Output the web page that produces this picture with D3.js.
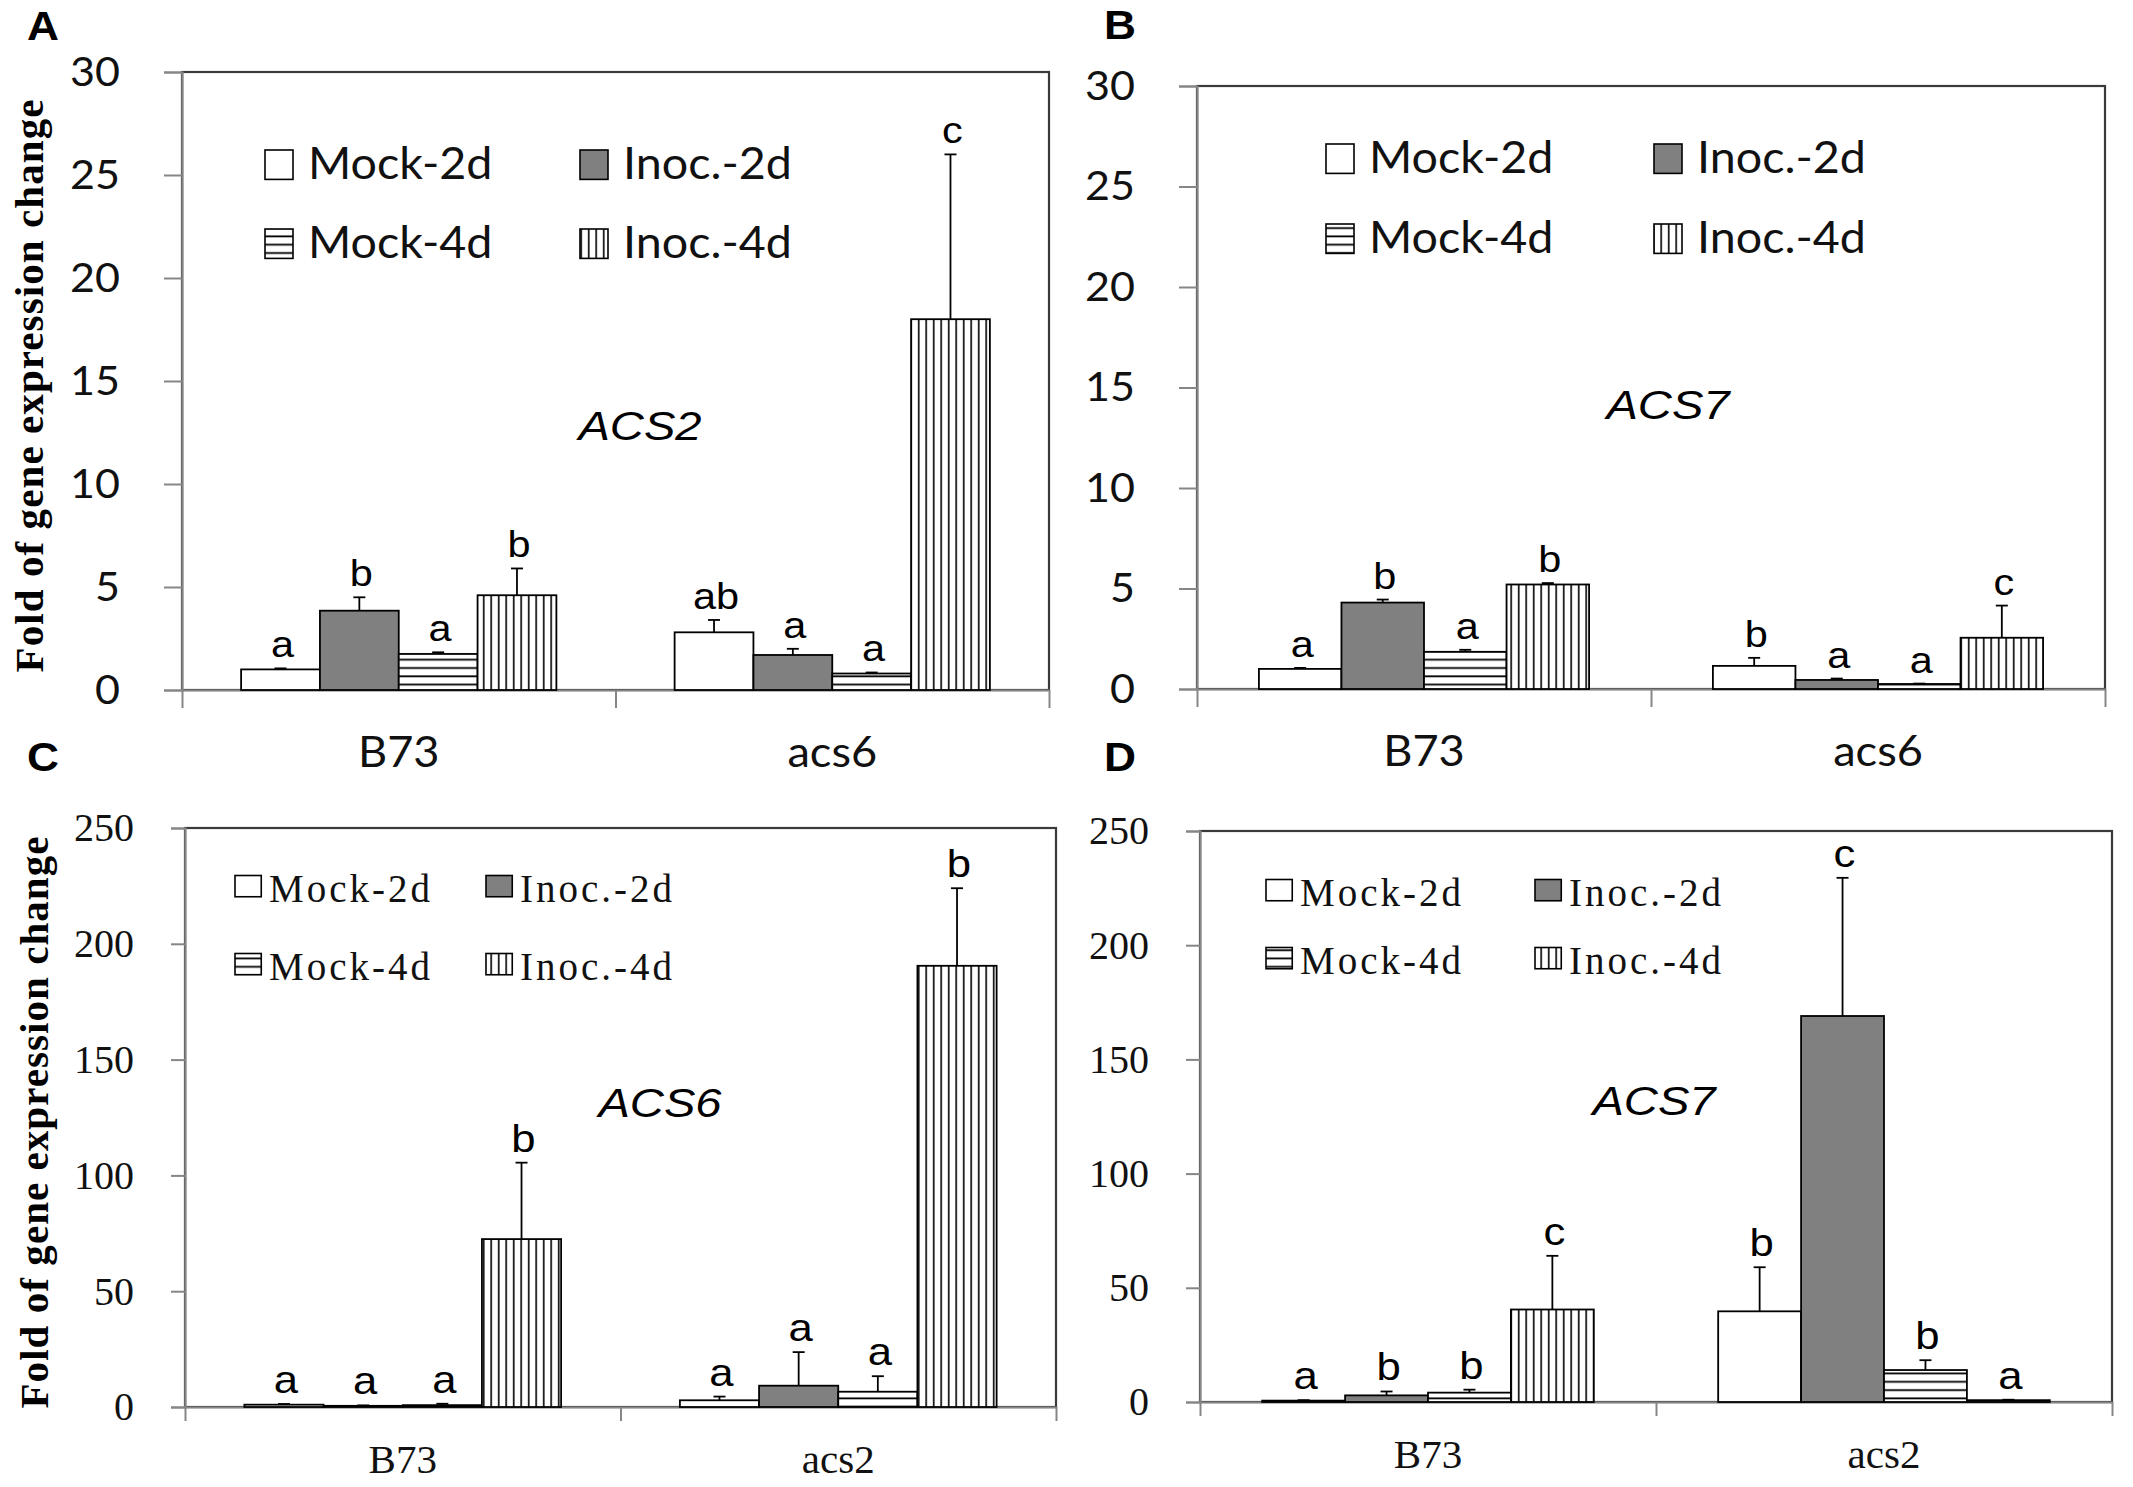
<!DOCTYPE html>
<html>
<head>
<meta charset="utf-8">
<script src="https://cdn.jsdelivr.net/npm/d3@7"></script>
<style>
  body { margin: 0; background: #fff; }
  svg { display: block; }
</style>
</head>
<body>
<script>
const W = 2133, H = 1487

// data
const seriesNames = ['Mock-2d', 'Inoc.-2d', 'Mock-4d', 'Inoc.-4d']
const groupsTop = ['B73', 'acs6']
const groupsBottom = ['B73', 'acs2']
const ticksTop = [0, 5, 10, 15, 20, 25, 30]
const ticksBottom = [0, 50, 100, 150, 200, 250]

const valuesA = [[1.0, 3.85, 1.75, 4.6], [2.8, 1.7, 0.8, 18.0]]
const errorsA = [[0.05, 0.65, 0.08, 1.3], [0.6, 0.3, 0.05, 8.0]]
const lettersA = [['a', 'b', 'a', 'b'], ['ab', 'a', 'a', 'c']]

const valuesB = [[1.0, 4.3, 1.85, 5.2], [1.15, 0.45, 0.25, 2.55]]
const errorsB = [[0.05, 0.15, 0.1, 0.07], [0.4, 0.07, 0.02, 1.6]]
const lettersB = [['a', 'b', 'a', 'b'], ['b', 'a', 'a', 'c']]

const valuesC = [[1.0, 0.5, 0.8, 72.5], [2.9, 9.2, 6.6, 190.5]]
const errorsC = [[0.3, 0.2, 0.6, 33], [1.6, 14.5, 6.7, 33.5]]
const lettersC = [['a', 'a', 'a', 'b'], ['a', 'a', 'a', 'b']]

const valuesD = [[0.6, 2.9, 4.1, 40.5], [39.7, 169, 14, 0.8]]
const errorsD = [[0.2, 1.7, 1.3, 23.5], [19.3, 60.5, 4.3, 0.2]]
const lettersD = [['a', 'b', 'b', 'c'], ['b', 'c', 'b', 'a']]

const sans = "Lato, 'Open Sans', sans-serif"
const serif = "'Liberation Serif', 'Times New Roman', serif"
const arial = "'Liberation Sans', Arial, sans-serif"
const fills = ['#ffffff', '#808080', 'url(#hstripe)', 'url(#vstripe)']

const panels = [
    { label: 'A', left: 182, right: 1049, top: 72, bottom: 690, ticks: ticksTop, groups: groupsTop,
      values: valuesA, errors: errorsA, letters: lettersA, gene: 'ACS2', genePos: [640, 426],
      legend: { cols: [265, 580], rows: [164, 243], sw: 28, gap: 15 }, labelPos: [27, 26], title: 29, serifText: false },
    { label: 'B', left: 1197, right: 2105, top: 86, bottom: 689, ticks: ticksTop, groups: groupsTop,
      values: valuesB, errors: errorsB, letters: lettersB, gene: 'ACS7', genePos: [1668, 405],
      legend: { cols: [1326, 1654], rows: [158, 238], sw: 28, gap: 15 }, labelPos: [1104, 25], title: null, serifText: false },
    { label: 'C', left: 185, right: 1056, top: 828, bottom: 1407, ticks: ticksBottom, groups: groupsBottom,
      values: valuesC, errors: errorsC, letters: lettersC, gene: 'ACS6', genePos: [660, 1103],
      legend: { cols: [235, 486], rows: [888, 966], sw: 25, gap: 9 }, labelPos: [27, 757], title: 34, serifText: true },
    { label: 'D', left: 1200, right: 2112, top: 831, bottom: 1402, ticks: ticksBottom, groups: groupsBottom,
      values: valuesD, errors: errorsD, letters: lettersD, gene: 'ACS7', genePos: [1654, 1101],
      legend: { cols: [1266, 1535], rows: [892, 960], sw: 25, gap: 9 }, labelPos: [1104, 757], title: null, serifText: true }
]

const svg = d3.select('body').append('svg')
    .attr('width', W).attr('height', H)
    .attr('viewBox', `0 0 ${W} ${H}`)
    .attr('xmlns', 'http://www.w3.org/2000/svg')

// stripe patterns for the 4-day bars
const defs = svg.append('defs')
const hp = defs.append('pattern').attr('id', 'hstripe').attr('patternUnits', 'userSpaceOnUse')
    .attr('width', 10).attr('height', 8.3)
hp.append('rect').attr('width', 10).attr('height', 8.3).attr('fill', '#fff')
hp.append('line').attr('x1', 0).attr('x2', 10).attr('y1', 4).attr('y2', 4).attr('stroke', '#000').attr('stroke-width', 1.8)
const vp = defs.append('pattern').attr('id', 'vstripe').attr('patternUnits', 'userSpaceOnUse')
    .attr('width', 7.5).attr('height', 10)
vp.append('rect').attr('width', 7.5).attr('height', 10).attr('fill', '#fff')
vp.append('line').attr('y1', 0).attr('y2', 10).attr('x1', 3.7).attr('x2', 3.7).attr('stroke', '#000').attr('stroke-width', 1.6)

// widen glyphs a little, the source figure was stretched horizontally
function stretch(sel, k) {
    sel.each(function () {
        const len = this.getComputedTextLength()
        if (len > 0) d3.select(this).attr('textLength', len * k).attr('lengthAdjust', 'spacingAndGlyphs')
    })
}

panels.forEach(p => drawPanel(p))

function drawPanel(p) {
    const g = svg.append('g')
    const font = p.serifText ? serif : sans
    const yMax = p.ticks[p.ticks.length - 1]
    const y = d3.scaleLinear().domain([0, yMax]).range([p.bottom, p.top])
    const x0 = d3.scaleBand().domain(p.groups).range([p.left, p.right])
    const x1 = d3.scaleBand().domain(seriesNames).range([0, x0.bandwidth()]).paddingOuter(0.75).paddingInner(0)
    const edge = d3.scaleLinear().domain([0, p.groups.length]).range([p.left, p.right])

    // plot frame
    g.append('rect')
        .attr('x', p.left).attr('y', p.top)
        .attr('width', p.right - p.left).attr('height', p.bottom - p.top)
        .attr('fill', 'none').attr('stroke', '#3a3a3a').attr('stroke-width', 2.2)

    // y axis
    const yAxis = g.append('g').attr('transform', `translate(${p.left},0)`)
        .call(d3.axisLeft(y).tickValues(p.ticks).tickSize(p.serifText ? 14 : 18).tickPadding(p.serifText ? 37 : 44))
    yAxis.select('.domain').attr('stroke', '#868686').attr('stroke-width', 2.2)
    yAxis.selectAll('.tick line').attr('stroke', '#868686').attr('stroke-width', 2)
    yAxis.selectAll('.tick text')
        .attr('fill', '#111').attr('font-family', font)
        .attr('font-size', p.serifText ? 40 : 41)
    stretch(yAxis.selectAll('.tick text'), p.serifText ? 1.0 : 1.05)

    // x axis: boundary ticks and category labels
    const xEdge = g.append('g').attr('transform', `translate(0,${p.bottom})`)
        .call(d3.axisBottom(edge).tickValues(d3.range(p.groups.length + 1)).tickFormat('').tickSize(p.serifText ? 14 : 18).tickSizeOuter(0))
    xEdge.select('.domain').attr('stroke', '#868686').attr('stroke-width', 2.2)
    xEdge.selectAll('.tick line').attr('stroke', '#868686').attr('stroke-width', 2)

    const xCat = g.append('g').attr('transform', `translate(0,${p.bottom})`)
        .call(d3.axisBottom(x0).tickSize(0))
    xCat.select('.domain').remove()
    xCat.selectAll('.tick text')
        .attr('y', p.serifText ? 52 : 62).attr('dy', '0.35em')
        .attr('fill', '#111').attr('font-family', font)
        .attr('font-size', p.serifText ? 41 : 43)
    stretch(xCat.selectAll('.tick text'), p.serifText ? 1.0 : 1.05)

    // bars
    const rows = p.groups.flatMap((grp, gi) => seriesNames.map((s, si) => ({
        grp, s, si, v: p.values[gi][si], e: p.errors[gi][si], letter: p.letters[gi][si]
    })))
    const bw = x1.bandwidth()

    g.append('g').selectAll('rect').data(rows).enter().append('rect')
        .attr('x', d => x0(d.grp) + x1(d.s))
        .attr('y', d => y(d.v))
        .attr('width', bw)
        .attr('height', d => y(0) - y(d.v))
        .attr('fill', d => fills[d.si])
        .attr('stroke', '#000').attr('stroke-width', 1.8)

    // error bars, upper half only
    const eb = g.append('g').attr('stroke', '#000').attr('stroke-width', 1.8)
    eb.selectAll('line.v').data(rows).enter().append('line')
        .attr('class', 'v')
        .attr('x1', d => x0(d.grp) + x1(d.s) + bw / 2).attr('x2', d => x0(d.grp) + x1(d.s) + bw / 2)
        .attr('y1', d => y(d.v)).attr('y2', d => y(d.v + d.e))
    eb.selectAll('line.c').data(rows).enter().append('line')
        .attr('class', 'c')
        .attr('x1', d => x0(d.grp) + x1(d.s) + bw / 2 - 6).attr('x2', d => x0(d.grp) + x1(d.s) + bw / 2 + 6)
        .attr('y1', d => y(d.v + d.e)).attr('y2', d => y(d.v + d.e))

    // significance letters
    const lt = g.append('g').selectAll('text').data(rows).enter().append('text')
        .attr('x', d => x0(d.grp) + x1(d.s) + bw / 2 + 2)
        .attr('y', d => y(d.v + d.e) - 11)
        .attr('text-anchor', 'middle')
        .attr('font-family', arial).attr('font-size', p.serifText ? 39 : 37)
        .attr('fill', '#000')
        .text(d => d.letter)
    stretch(lt, 1.12)

    // legend
    const lg = g.append('g')
    seriesNames.forEach((s, i) => {
        const cx = p.legend.cols[i % 2], cy = p.legend.rows[Math.floor(i / 2)]
        const sw = p.legend.sw
        lg.append('rect')
            .attr('x', cx).attr('y', cy - sw / 2)
            .attr('width', sw * (p.serifText ? 1.05 : 1.0)).attr('height', sw * (p.serifText ? 0.85 : 1.05))
            .attr('fill', fills[i]).attr('stroke', '#000').attr('stroke-width', 1.6)
        const t = lg.append('text')
            .attr('x', cx + sw + p.legend.gap).attr('y', cy).attr('dy', '0.35em')
            .attr('font-family', font).attr('font-size', p.serifText ? 39 : 44)
            .attr('letter-spacing', p.serifText ? 3 : 0)
            .attr('fill', '#111')
            .text(s)
        stretch(t, p.serifText ? 1.0 : 1.06)
    })

    // gene name
    const gt = g.append('text')
        .attr('x', p.genePos[0]).attr('y', p.genePos[1]).attr('dy', '0.35em')
        .attr('text-anchor', 'middle')
        .attr('font-family', arial).attr('font-style', 'italic').attr('font-size', 41)
        .attr('fill', '#000')
        .text(p.gene)
    stretch(gt, 1.15)

    // panel letter
    const pl = g.append('text')
        .attr('x', p.labelPos[0]).attr('y', p.labelPos[1]).attr('dy', '0.35em')
        .attr('font-family', arial).attr('font-weight', 'bold').attr('font-size', 41)
        .attr('fill', '#000')
        .text(p.label)
    stretch(pl, 1.08)

    // y axis title
    if (p.title !== null) {
        const cy = (p.top + p.bottom) / 2 + 5
        g.append('text')
            .attr('transform', `translate(${p.title},${cy}) rotate(-90)`)
            .attr('text-anchor', 'middle').attr('dy', '0.35em')
            .attr('font-family', serif).attr('font-weight', 'bold').attr('font-size', 41)
            .attr('textLength', p.serifText ? 572 : 573).attr('lengthAdjust', 'spacing')
            .attr('fill', '#000')
            .text('Fold of gene expression change')
    }
}
</script>
</body>
</html>
